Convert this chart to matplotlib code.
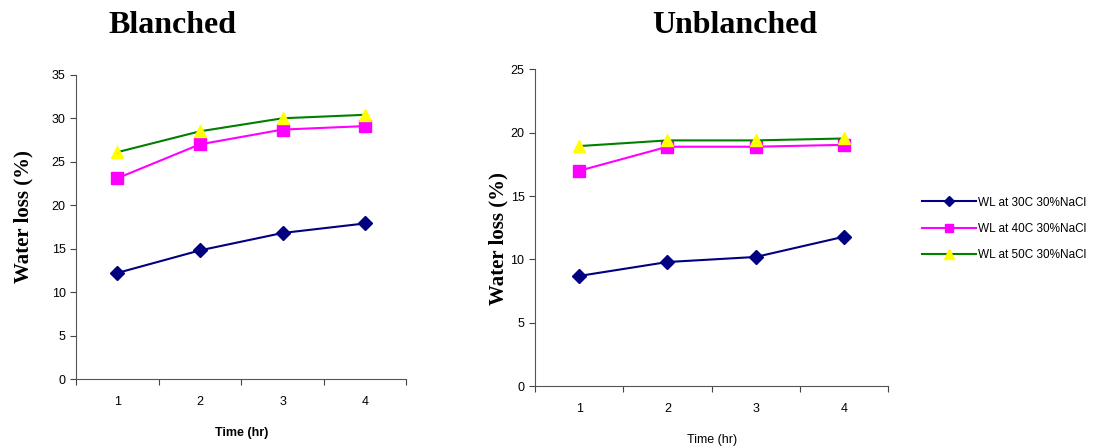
import numpy as np
import matplotlib
matplotlib.use("Agg")
import matplotlib.pyplot as plt

# time points (hr)
time_hr = [1, 2, 3, 4]

# water loss (%), blanched samples
blanched_30 = [12.2, 14.8, 16.8, 17.9]
blanched_40 = [23.1, 27.0, 28.7, 29.1]
blanched_50 = [26.1, 28.5, 30.0, 30.4]

# water loss (%), unblanched samples
unblanched_30 = [8.7, 9.8, 10.2, 11.8]
unblanched_40 = [17.0, 18.9, 18.9, 19.05]
unblanched_50 = [18.95, 19.4, 19.4, 19.55]

labels = ["WL at 30C 30%NaCl", "WL at 40C 30%NaCl", "WL at 50C 30%NaCl"]

plt.rcParams['font.family'] = ['Liberation Sans', 'DejaVu Sans']


def draw_panel(ax, s30, s40, s50, ymax, ystep):
    l1, = ax.plot(time_hr, s30, color='#000080', marker='D', markersize=7,
                  markerfacecolor='#000080', markeredgecolor='#000080', lw=1.5)
    l2, = ax.plot(time_hr, s40, color='#FF00FF', marker='s', markersize=8,
                  markerfacecolor='#FF00FF', markeredgecolor='#FF00FF', lw=1.5)
    l3, = ax.plot(time_hr, s50, color='#008000', marker='^', markersize=9,
                  markerfacecolor='#FFFF00', markeredgecolor='#FFFF00', lw=1.5)
    ax.set_xlim(0.5, 4.5)
    ax.set_ylim(0, ymax)
    ax.set_yticks(np.arange(0, ymax + 1, ystep))
    # category-style axis: ticks on boundaries, labels in the middle
    ax.set_xticks([0.5, 1.5, 2.5, 3.5, 4.5])
    ax.set_xticklabels([])
    ax.set_xticks(time_hr, minor=True)
    ax.set_xticklabels([str(t) for t in time_hr], minor=True)
    ax.tick_params(axis='x', which='major', direction='out', length=4, color='#444444')
    ax.tick_params(axis='x', which='minor', length=0, pad=12, labelsize=9)
    ax.tick_params(axis='y', direction='out', length=4, color='#444444', labelsize=9)
    for sp in ['top', 'right']:
        ax.spines[sp].set_visible(False)
    for sp in ['left', 'bottom']:
        ax.spines[sp].set_color('#555555')
    return [l1, l2, l3]


fig = plt.figure(figsize=(10.94, 4.48), dpi=100)
ax1 = fig.add_axes([0.0695, 0.154, 0.302, 0.679])
ax2 = fig.add_axes([0.489, 0.138, 0.323, 0.707])

handles = draw_panel(ax1, blanched_30, blanched_40, blanched_50, 35, 5)
draw_panel(ax2, unblanched_30, unblanched_40, unblanched_50, 25, 5)

serif = ['Liberation Serif', 'DejaVu Serif']
fig.text(172 / 1094, 1 - 33 / 448, "Blanched", family=serif, fontsize=23,
         fontweight='bold', ha='center', va='baseline')
fig.text(735 / 1094, 1 - 33 / 448, "Unblanched", family=serif, fontsize=23,
         fontweight='bold', ha='center', va='baseline')

ax1.set_ylabel("Water loss (%)", family=serif, fontsize=15, fontweight='bold')
ax1.yaxis.set_label_coords(-0.13, 0.533)
ax2.set_ylabel("Water loss (%)", family=serif, fontsize=15, fontweight='bold')
ax2.yaxis.set_label_coords(-0.075, 0.467)

ax1.set_xlabel("Time (hr)", fontsize=9, fontweight='bold', labelpad=14)
ax2.set_xlabel("Time (hr)", fontsize=9, labelpad=14)

fig.legend(handles, labels, loc='upper left', bbox_to_anchor=(0.833, 0.585),
           frameon=False, fontsize=8.5, handlelength=4.6, handletextpad=0.15,
           labelspacing=1.2, markerscale=0.8)

fig.savefig("out.png", dpi=100)
